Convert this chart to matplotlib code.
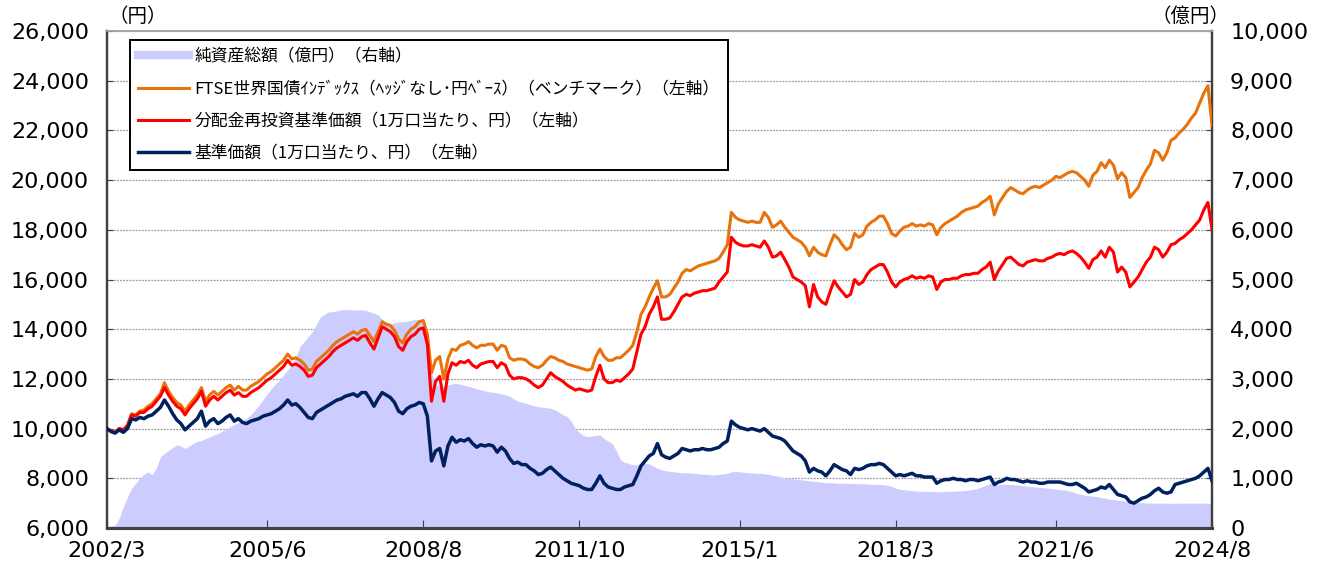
import matplotlib
matplotlib.use("Agg")
import matplotlib.pyplot as plt
from matplotlib.lines import Line2D
from matplotlib.ticker import FuncFormatter

plt.rcParams['font.family'] = ['Noto Sans CJK JP', 'DejaVu Sans']

# monthly values, 2002/3 .. 2024/8
start_year, start_month = 2002, 3

nav = [  # 基準価額
    10000, 9880, 9820, 9950, 9850, 10000, 10400, 10350, 10450, 10400,
    10500, 10550, 10700, 10850, 11150, 10900, 10600, 10350, 10200, 9950, 10100, 10250,
    10400, 10700, 10100, 10300, 10400, 10200, 10300, 10450, 10550, 10300, 10400, 10250,
    10200, 10300, 10350, 10400, 10500, 10550, 10600, 10700, 10800, 10950, 11150, 10950,
    11000, 10850, 10650, 10450, 10400, 10650, 10750, 10850, 10950, 11050, 11150, 11200,
    11300, 11350, 11400, 11300, 11450, 11450, 11200, 10900, 11200, 11450, 11350, 11250,
    11050, 10700, 10600, 10800, 10900, 10950, 11050, 11000, 10500, 8700, 9100, 9200,
    8500, 9300, 9650, 9450, 9550, 9500, 9600, 9400, 9250, 9350, 9300, 9350,
    9300, 9050, 9250, 9100, 8800, 8600, 8650, 8550, 8550, 8400, 8300, 8150,
    8200, 8350, 8450, 8300, 8150, 8000, 7900, 7800, 7750, 7700, 7600, 7550,
    7550, 7800, 8100, 7800, 7650, 7600, 7550, 7550, 7650, 7700, 7750, 8100,
    8500, 8700, 8900, 9000, 9400, 8950, 8850, 8800, 8900, 9000, 9200, 9150,
    9100, 9150, 9150, 9200, 9150, 9150, 9200, 9250, 9400, 9500, 10300, 10150,
    10050, 10000, 9950, 10000, 9950, 9900, 10000, 9850, 9700, 9650, 9600, 9500,
    9300, 9100, 9000, 8900, 8700, 8250, 8400, 8300, 8250, 8100, 8300, 8550,
    8450, 8350, 8300, 8150, 8400, 8350, 8400, 8500, 8550, 8550, 8600, 8550,
    8400, 8250, 8100, 8150, 8100, 8150, 8200, 8100, 8100, 8050, 8050, 8050,
    7800, 7900, 7950, 7950, 8000, 7950, 7950, 7900, 7950, 7950, 7900, 7950,
    8000, 8050, 7750, 7850, 7900, 8000, 7950, 7950, 7900, 7850, 7900, 7850,
    7850, 7800, 7800, 7850, 7850, 7850, 7850, 7800, 7750, 7750, 7800, 7700,
    7600, 7450, 7500, 7550, 7650, 7600, 7750, 7550, 7350, 7300, 7250, 7050,
    7000, 7100, 7200, 7250, 7350, 7500, 7600, 7450, 7400, 7450, 7750, 7800,
    7850, 7900, 7950, 8000, 8100, 8250, 8400, 7900,
]

nav_reinvested = [  # 分配金再投資基準価額
    10000, 9900, 9850, 10000, 9950, 10100, 10550, 10500, 10650, 10650,
    10800, 10900, 11100, 11300, 11650, 11350, 11100, 10900, 10800, 10550, 10800, 11000,
    11200, 11500, 10900, 11150, 11300, 11150, 11300, 11450, 11550, 11350, 11450, 11300,
    11300, 11450, 11550, 11650, 11800, 11950, 12050, 12200, 12350, 12500, 12750, 12550,
    12600, 12500, 12350, 12100, 12150, 12450, 12600, 12750, 12900, 13100, 13250, 13350,
    13450, 13550, 13650, 13550, 13700, 13750, 13450, 13200, 13650, 14100, 14000, 13900,
    13700, 13300, 13150, 13500, 13700, 13800, 14000, 14050, 13400, 11100, 11900, 12100,
    11100, 12200, 12650, 12550, 12700, 12650, 12750, 12550, 12450, 12600, 12650, 12700,
    12700, 12450, 12650, 12550, 12150, 12000, 12050, 12050, 12000, 11900, 11750, 11650,
    11750, 12000, 12250, 12100, 12000, 11900, 11750, 11650, 11550, 11600, 11550, 11500,
    11550, 12100, 12550, 12000, 11850, 11850, 11950, 11900, 12050, 12200, 12400, 13100,
    13800, 14100, 14600, 14900, 15300, 14400, 14400, 14450, 14700, 15000, 15300, 15400,
    15350, 15450, 15500, 15550, 15550, 15600, 15650, 15900, 16100, 16300, 17700, 17500,
    17400, 17350, 17350, 17400, 17350, 17300, 17550, 17300, 16900, 16950, 17100, 16800,
    16500, 16100, 16000, 15900, 15750, 14900, 15800, 15300, 15100, 15000, 15500, 15950,
    15700, 15500, 15300, 15400, 16000, 15800, 15900, 16200, 16400, 16500, 16600, 16600,
    16300, 15900, 15700, 15900, 16000, 16050, 16150, 16050, 16100, 16050, 16150, 16100,
    15600, 15900, 16000, 16000, 16050, 16050, 16150, 16200, 16200, 16250, 16250, 16400,
    16500, 16700, 16000, 16350, 16600, 16850, 16900, 16750, 16600, 16550, 16700, 16750,
    16800, 16750, 16750, 16850, 16900, 17000, 17050, 17000, 17100, 17150, 17050, 16900,
    16700, 16450, 16800, 16900, 17150, 16900, 17300, 17100, 16300, 16500, 16300, 15700,
    15900, 16100, 16400, 16700, 16900, 17300, 17200, 16900, 17100, 17400, 17450, 17600,
    17700, 17850, 18000, 18200, 18400, 18800, 19100, 18000,
]

benchmark = [  # FTSE世界国債インデックス
    10000, 9900, 9850, 10000, 9950, 10150, 10600, 10550, 10700, 10750,
    10900, 11000, 11200, 11400, 11850, 11500, 11250, 11050, 10950, 10700, 10950, 11150,
    11350, 11650, 11100, 11350, 11500, 11350, 11500, 11650, 11750, 11550, 11700, 11550,
    11550, 11700, 11800, 11900, 12050, 12200, 12300, 12450, 12600, 12750, 13000, 12800,
    12850, 12750, 12600, 12350, 12400, 12700, 12850, 13000, 13150, 13350, 13500, 13600,
    13700, 13800, 13900, 13800, 13950, 14000, 13750, 13500, 13900, 14300, 14200, 14150,
    13950, 13600, 13450, 13800, 14000, 14100, 14300, 14350, 13800, 12250, 12750, 12900,
    12000, 12800, 13200, 13150, 13350, 13400, 13500, 13350, 13250, 13350, 13350, 13400,
    13400, 13150, 13350, 13300, 12850, 12750, 12800, 12800, 12750, 12600, 12500, 12450,
    12550, 12750, 12900, 12850, 12750, 12700, 12600, 12550, 12500, 12450, 12400, 12350,
    12400, 12900, 13200, 12900, 12750, 12750, 12850, 12850, 13000, 13150, 13350, 13900,
    14600, 14900, 15300, 15650, 15950, 15300, 15300, 15400, 15650, 15900, 16250, 16400,
    16350, 16450, 16550, 16600, 16650, 16700, 16750, 16850, 17100, 17400, 18700, 18500,
    18400, 18350, 18300, 18350, 18300, 18300, 18700, 18500, 18100, 18200, 18350, 18100,
    17900, 17700, 17600, 17500, 17300, 16950, 17300, 17100, 17000, 16950, 17400, 17800,
    17650, 17400, 17200, 17300, 17850, 17700, 17800, 18150, 18300, 18400, 18550, 18550,
    18250, 17850, 17750, 17950, 18100, 18150, 18250, 18150, 18200, 18150, 18250, 18200,
    17800, 18100, 18250, 18350, 18450, 18550, 18700, 18800, 18850, 18900, 18950, 19100,
    19200, 19350, 18600, 19050, 19300, 19550, 19700, 19600, 19500, 19450, 19600, 19700,
    19750, 19700, 19800, 19900, 20000, 20150, 20100, 20200, 20300, 20350, 20300, 20150,
    20000, 19750, 20200, 20350, 20700, 20500, 20800, 20600, 20050, 20300, 20100, 19300,
    19500, 19700, 20100, 20400, 20650, 21200, 21100, 20800, 21100, 21600, 21700, 21900,
    22050, 22250, 22500, 22700, 23100, 23500, 23800, 22200,
]

net_assets = [  # 純資産総額(億円)
    30, 40, 60, 200, 430, 620, 800, 900, 1000, 1080,
    1130, 1070, 1200, 1430, 1500, 1560, 1620, 1670, 1650, 1600, 1650, 1700,
    1740, 1760, 1800, 1830, 1870, 1900, 1950, 1980, 2040, 2080, 2120, 2160,
    2210, 2280, 2370, 2470, 2580, 2700, 2800, 2900, 2980, 3080, 3180, 3280,
    3450, 3650, 3750, 3850, 3950, 4100, 4250, 4300, 4350, 4350, 4370, 4390,
    4390, 4400, 4380, 4390, 4390, 4380, 4350, 4320, 4290, 4200, 4120, 4110,
    4130, 4150, 4150, 4160, 4180, 4190, 4190, 4170, 3720, 3110, 2900, 2840,
    2850, 2880, 2900, 2910, 2890, 2870, 2850, 2830, 2800, 2780, 2760, 2740,
    2730, 2720, 2700, 2680, 2650, 2600, 2550, 2530, 2510, 2480, 2460, 2440,
    2430, 2420, 2410, 2380, 2330, 2280, 2240, 2150, 2000, 1920, 1860, 1840,
    1850, 1860, 1870, 1800, 1750, 1700, 1550, 1370, 1320, 1300, 1270, 1270,
    1290, 1300, 1290, 1250, 1200, 1170, 1150, 1140, 1130, 1120, 1110, 1110,
    1110, 1100, 1090, 1080, 1080, 1070, 1070, 1080, 1090, 1100, 1130, 1140,
    1130, 1120, 1110, 1110, 1100, 1100, 1090, 1080, 1060, 1050, 1030, 1010,
    1000, 990, 980, 970, 960, 950, 940, 930, 920, 910, 910, 905,
    900, 900, 900, 895, 895, 890, 890, 885, 880, 875, 875, 870,
    860, 840, 800, 780, 770, 760, 750, 745, 740, 735, 735, 730,
    730, 730, 735, 740, 740, 745, 750, 755, 765, 780, 800, 830,
    860, 900, 880, 870, 880, 880, 875, 870, 860, 850, 840, 830,
    825, 820, 810, 800, 790, 780, 770, 765, 750, 730, 700, 680,
    660, 650, 640, 630, 610, 600, 580, 570, 560, 550, 540, 530,
    520, 515, 510, 505, 500, 500, 500, 500, 500, 495, 495, 500,
    500, 500, 500, 500, 500, 500, 500, 480,
]

tick_labels = ['2002/3', '2005/6', '2008/8', '2011/10', '2015/1', '2018/3', '2021/6', '2024/8']

labels = [
    '純資産総額（億円）（右軸）',
    'FTSE世界国債ｲﾝﾃﾞｯｸｽ（ﾍｯｼﾞなし･円ﾍﾞｰｽ）（ベンチマーク）（左軸）',
    '分配金再投資基準価額（1万口当たり、円）（左軸）',
    '基準価額（1万口当たり、円）（左軸）',
]

months = list(range(len(nav)))


def month_index(label):
    y, m = label.split('/')
    return (int(y) - start_year) * 12 + int(m) - start_month


c_fill = '#CCCCFF'
c_bm = '#E8720C'
c_re = '#FF0000'
c_nav = '#002060'

fig = plt.figure(figsize=(13.17, 5.65), dpi=100)
ax = fig.add_axes([0.0812, 0.0655, 0.8391, 0.8796])
ax2 = ax.twinx()
ax.set_zorder(ax2.get_zorder() + 1)
ax.patch.set_visible(False)

# net assets area on the right axis, grid behind it
ax2.fill_between(months, net_assets, 0, color=c_fill, linewidth=0, zorder=2)
ax2.set_ylim(0, 10000)
ax2.set_yticks(range(0, 10001, 1000))
ax2.grid(axis='y', color='#9A9A9A', linestyle=(0, (1.5, 1.0)), linewidth=0.9, zorder=0)
ax2.set_axisbelow(True)

ax.plot(months, benchmark, color=c_bm, lw=2.2, zorder=3)
ax.plot(months, nav_reinvested, color=c_re, lw=2.2, zorder=4)
ax.plot(months, nav, color=c_nav, lw=2.5, zorder=5)
ax.set_ylim(6000, 26000)
ax.set_yticks(range(6000, 26001, 2000))
ax.set_xlim(0, len(nav) - 1)
ax.set_xticks([month_index(t) for t in tick_labels])
ax.set_xticklabels(tick_labels)

fmt = FuncFormatter(lambda v, p: f'{int(v):,}')
ax.yaxis.set_major_formatter(fmt)
ax2.yaxis.set_major_formatter(fmt)

tick_font = dict(labelsize=16, labelfontfamily='DejaVu Sans', labelcolor='#000000')
ax.tick_params(axis='y', direction='in', length=4, pad=13, **tick_font)
ax.tick_params(axis='x', direction='in', length=6, pad=9, **tick_font)
ax2.tick_params(axis='y', direction='in', length=4, pad=13, **tick_font)
for a in (ax, ax2):
    a.tick_params(color='#404040')
    for s in ('left', 'right', 'bottom'):
        a.spines[s].set_color('#404040')
        a.spines[s].set_linewidth(1.6)
    a.spines['bottom'].set_linewidth(2.2)
    a.spines['top'].set_color('#A6A6A6')
    a.spines['top'].set_linewidth(1.2)

ax.text(0.001, 1.03, '（円）', transform=ax.transAxes, fontsize=14, ha='left', va='center')
ax.text(1.016, 1.03, '（億円）', transform=ax.transAxes, fontsize=14, ha='right', va='center')

handles = [
    Line2D([], [], color=c_fill, lw=6),
    Line2D([], [], color=c_bm, lw=2.2),
    Line2D([], [], color=c_re, lw=2.2),
    Line2D([], [], color=c_nav, lw=2.5),
]
leg = ax.legend(handles, labels, loc='upper left', bbox_to_anchor=(0.0208, 0.982),
                borderaxespad=0, fontsize=12.1, frameon=True, fancybox=False,
                edgecolor='#000000', framealpha=1, handlelength=3.0,
                handletextpad=0.35, labelspacing=0.9, borderpad=0.5)
leg.get_frame().set_linewidth(1.4)
leg.set_zorder(10)

fig.savefig('out.png', dpi=100)
